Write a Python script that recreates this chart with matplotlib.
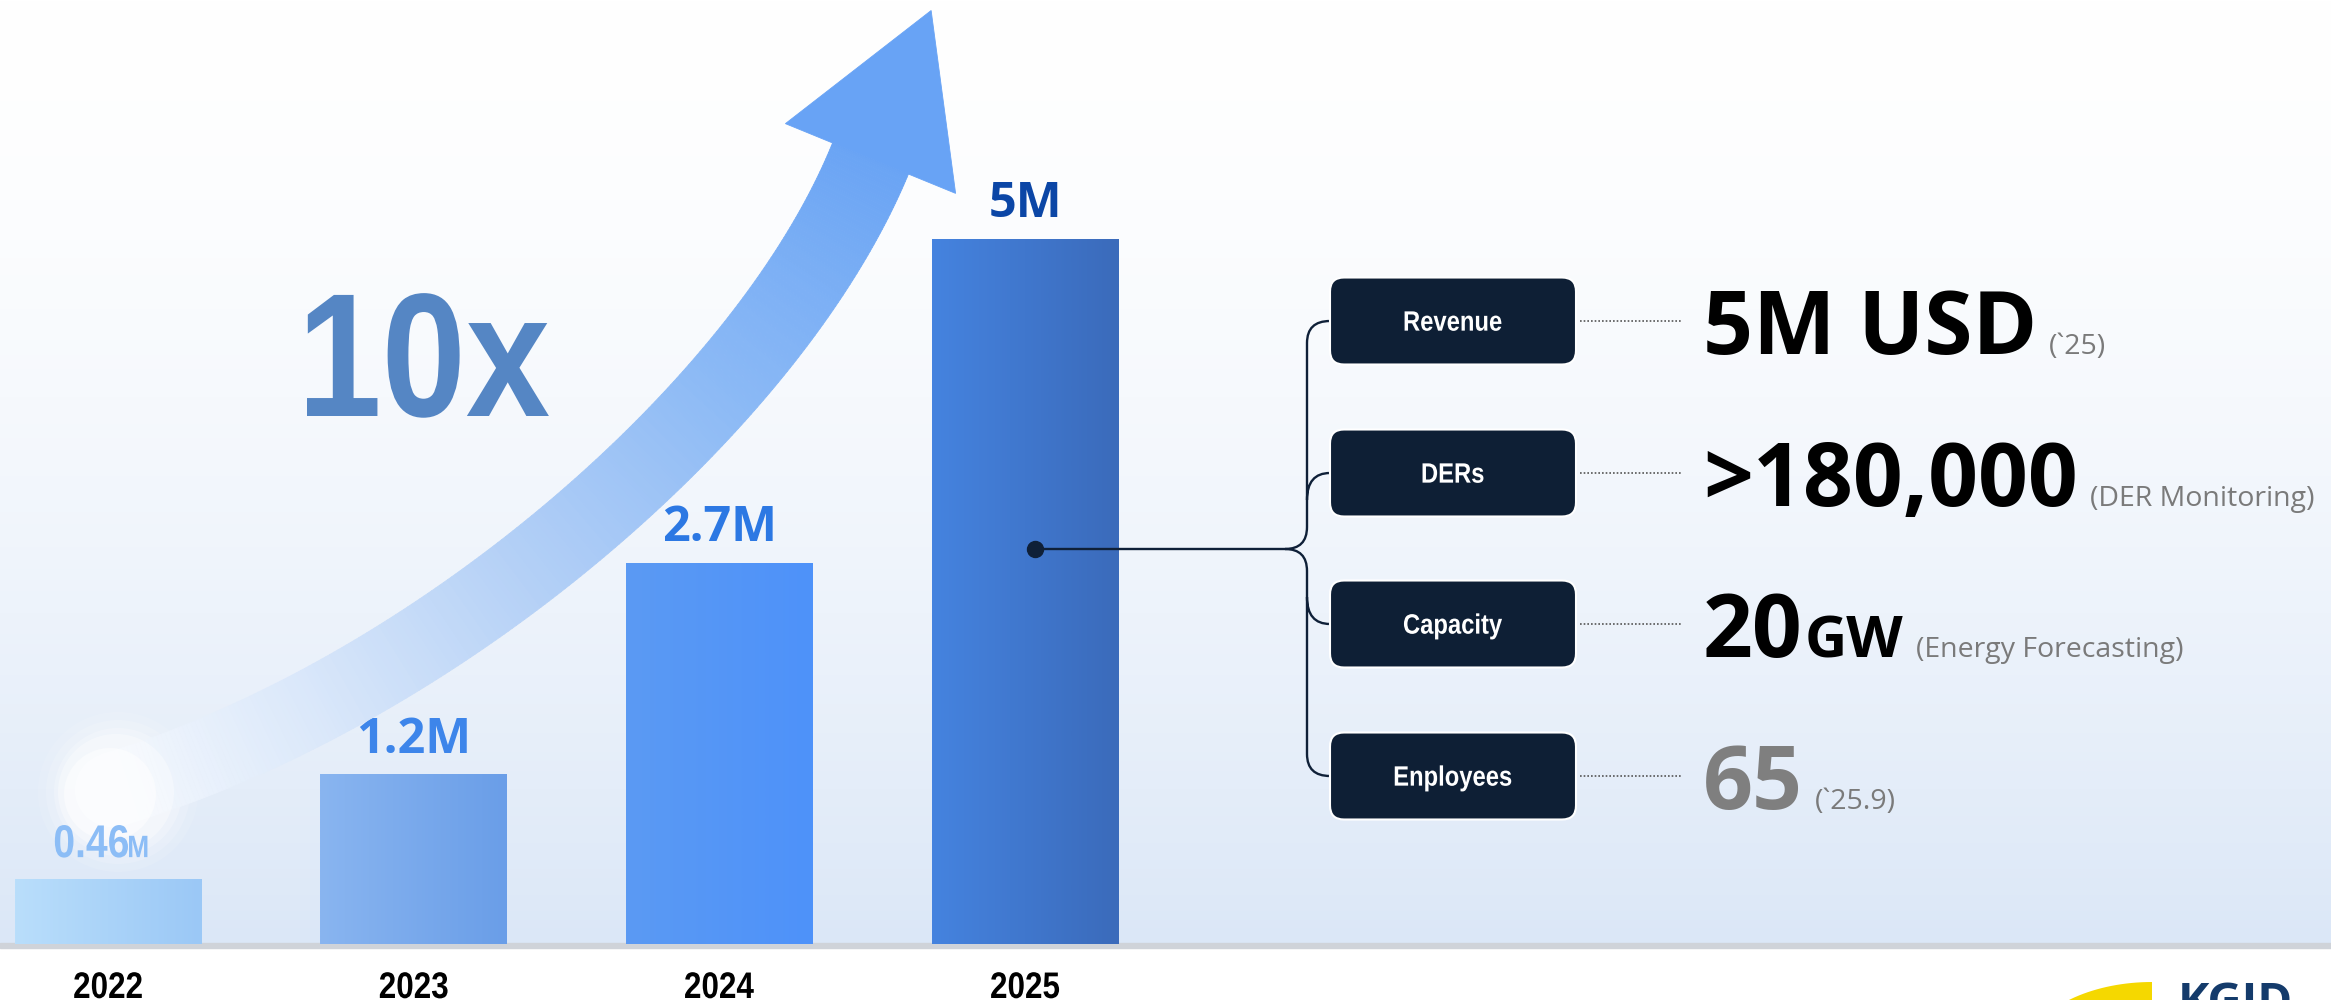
import numpy as np
import matplotlib
matplotlib.use('Agg')
import matplotlib.pyplot as plt
import matplotlib.transforms as mtransforms
from matplotlib import font_manager
from matplotlib.font_manager import FontProperties
from matplotlib.textpath import TextPath
from matplotlib.patches import Rectangle, FancyBboxPatch, PathPatch, Polygon, Circle
from matplotlib.path import Path
from matplotlib.collections import PolyCollection
from matplotlib.colors import LinearSegmentedColormap, to_rgb

# datos del grafico
years = ['2022', '2023', '2024', '2025']
revenue = [0.46, 1.2, 2.7, 5.0]
value_labels = ['0.46', '1.2M', '2.7M', '5M']
label_colors = ['#8cbdf6', '#3d85ea', '#2c78e3', '#0b46a6']
bar_grad = [('#b9defb', '#9bc8f6'), ('#89b5f0', '#6a9ee8'),
            ('#5b9af3', '#4e92fa'), ('#4583df', '#3b6bbb')]

kpi_names = ['Revenue', 'DERs', 'Capacity', 'Enployees']
kpi_values = ['5M USD', '>180,000', '20', '65']
kpi_units = ['', '', 'GW', '']
kpi_notes = ['(`25)', '(DER Monitoring)', '(Energy Forecasting)', '(`25.9)']
kpi_colors = ['#000000', '#000000', '#000000', '#7f7f7f']

names = {f.name for f in font_manager.fontManager.ttflist}
MAIN = 'Open Sans' if 'Open Sans' in names else 'DejaVu Sans'
ARIAL_B = FontProperties(family='Liberation Sans', weight='bold')

W, H = 2331, 1000
BASE = 944


def squeezed_text(ax, x, y, s, size_px, sx, color, ha='left', prop=ARIAL_B, zorder=7):
    # texto estrecho (tipo Arial Narrow) dibujado como path, y = linea base en pixeles
    tp = TextPath((0, 0), s, size=size_px, prop=prop)
    bb = tp.get_extents()
    w = bb.width * sx
    if ha == 'center':
        x0 = x - w / 2 - bb.x0 * sx
    elif ha == 'right':
        x0 = x - w - bb.x0 * sx
    else:
        x0 = x - bb.x0 * sx
    tr = mtransforms.Affine2D().scale(sx, -1).translate(x0, y) + ax.transData
    ax.add_patch(PathPatch(tp, fc=color, ec='none', transform=tr, zorder=zorder))


fig = plt.figure(figsize=(W / 100, H / 100), dpi=100)

# fondo degradado
ax_bg = fig.add_axes([0, 0, 1, 1], zorder=0)
rows = np.arange(H)
t = np.clip(rows / BASE, 0, 1) ** 1.6
top = np.array(to_rgb('#ffffff'))
bot = np.array(to_rgb('#dbe7f7'))
img = top + (bot - top) * t[:, None]
img[BASE:] = 1.0
ax_bg.imshow(img[:, None, :], extent=[0, W, H, 0], aspect='auto')
ax_bg.add_patch(Rectangle((0, BASE - 1), W, 5, color='#cfd3d9'))
ax_bg.set_xlim(0, W)
ax_bg.set_ylim(H, 0)
ax_bg.axis('off')

# barras
ax_bar = fig.add_axes([0, (H - BASE) / H, 1, BASE / H], zorder=1)
ax_bar.patch.set_alpha(0)
x = np.arange(len(years))
bars = ax_bar.bar(x, revenue, width=0.61, color='none', edgecolor='none')
g = np.linspace(0, 1, 64)[:, None]
for rect, (c0, c1) in zip(bars, bar_grad):
    cols = np.array(to_rgb(c0)) * (1 - g) + np.array(to_rgb(c1)) * g
    ax_bar.imshow(cols[None, :, :], extent=[rect.get_x(), rect.get_x() + rect.get_width(), 0, rect.get_height()],
                  aspect='auto', zorder=2, interpolation='bilinear')

for i in range(1, len(years)):
    ax_bar.annotate(value_labels[i], xy=(x[i], revenue[i]), xytext=(0, 16), textcoords='offset points',
                    ha='center', va='baseline', fontsize=35, fontweight='bold', family=MAIN,
                    color=label_colors[i], zorder=5)

ax_bar.set_xlim(-108 / 305.7, (W - 108) / 305.7)
ax_bar.set_ylim(0, 5.0 * BASE / 705)
ax_bar.set_xticks([])
ax_bar.set_yticks([])
for s in ax_bar.spines.values():
    s.set_visible(False)

# capa superior en pixeles
ax = fig.add_axes([0, 0, 1, 1], zorder=2)
ax.set_xlim(0, W)
ax.set_ylim(H, 0)
ax.axis('off')

# flecha curva
P0 = np.array([112.0, 790.0])
P3 = np.array([870.5, 158.5])
d_end = np.array([0.379, -0.925])
n_end = np.array([0.925, 0.379])
P1 = P0 + 335 * np.array([0.958, -0.287])
P2 = P3 - 270 * d_end
ts = np.linspace(0, 1, 220)
pts = ((1 - ts) ** 3)[:, None] * P0 + (3 * (1 - ts) ** 2 * ts)[:, None] * P1 \
    + (3 * (1 - ts) * ts ** 2)[:, None] * P2 + (ts ** 3)[:, None] * P3
der = (3 * (1 - ts) ** 2)[:, None] * (P1 - P0) + (6 * (1 - ts) * ts)[:, None] * (P2 - P1) \
    + (3 * ts ** 2)[:, None] * (P3 - P2)
der = der / np.linalg.norm(der, axis=1)[:, None]
nrm = np.column_stack([-der[:, 1], der[:, 0]])
wid = (74 + 8 * ts)[:, None] / 2
left = pts + wid * nrm
right = pts - wid * nrm
polys = [[left[i], left[i + 1], right[i + 1], right[i]] for i in range(len(ts) - 1)]
cmap = LinearSegmentedColormap.from_list('arr', [(0, '#f4f8fd'), (0.2, '#dbe8fa'), (0.45, '#b2cff6'),
                                                  (0.7, '#8bb9f5'), (1, '#6aa4f4')])
cc = cmap(ts[:-1])
for r, a in [(80, 0.10), (72, 0.15), (64, 0.22)]:
    ax.add_patch(Circle(P0 + np.array([6, 2]), r, color='white', alpha=a, lw=0, zorder=1))
ax.add_patch(Circle(P0, 37, color='#f4f8fd', lw=0, zorder=1))
ax.add_collection(PolyCollection(polys, facecolors=cc, edgecolors=cc, linewidths=0.6, zorder=1))
ax.add_patch(Polygon([P3 - 92 * n_end, P3 + 160 * d_end, P3 + 92 * n_end], closed=True,
                     fc='#68a3f5', ec='#68a3f5', lw=0.6, zorder=1))
ax.add_patch(Circle(P0 + np.array([4, 2]), 58, color='white', alpha=0.35, lw=0, zorder=1))
ax.add_patch(Circle(P0 + np.array([-2, 4]), 46, color='white', alpha=0.5, lw=0, zorder=1))

# etiquetas de anio y 0.46M, posicionadas con la escala de las barras
for i, yr in enumerate(years):
    px = ax_bar.transData.transform((x[i], 0))[0]
    squeezed_text(ax, px, 998, yr, 37, 0.85, '#000000', ha='center')
px, py = ax_bar.transData.transform((x[0], revenue[0]))
squeezed_text(ax, px + 20, H - py - 22, value_labels[0], 46, 0.85, label_colors[0], ha='right')
squeezed_text(ax, px + 21, H - py - 22, 'M', 31, 0.85, label_colors[0], ha='left')

squeezed_text(ax, 307, 416, '10x', 176, 0.86, '#5586c4', zorder=3)

# conector tipo llave
row_y = [321, 473, 624, 776]
lc = '#0f2038'
ax.plot([1035], [549], 'o', ms=11.5, color=lc, zorder=6)
V, B = 1307, 1330
verts = [(1035, 549), (1285, 549), (V, 549), (V, 527), (V, 343), (V, row_y[0]), (B, row_y[0]),
         (1285, 549), (V, 549), (V, 571), (V, 754), (V, row_y[3]), (B, row_y[3]),
         (V, 500), (V, row_y[1]), (B, row_y[1]),
         (V, 597), (V, row_y[2]), (B, row_y[2])]
codes = [Path.MOVETO, Path.LINETO, Path.CURVE3, Path.CURVE3, Path.LINETO, Path.CURVE3, Path.CURVE3,
         Path.MOVETO, Path.CURVE3, Path.CURVE3, Path.LINETO, Path.CURVE3, Path.CURVE3,
         Path.MOVETO, Path.CURVE3, Path.CURVE3,
         Path.MOVETO, Path.CURVE3, Path.CURVE3]
ax.add_patch(PathPatch(Path(verts, codes), fill=False, ec=lc, lw=1.7, zorder=5))

fig.canvas.draw()
rend = fig.canvas.get_renderer()

cap = TextPath((0, 0), 'H', size=28, prop=ARIAL_B).get_extents().height
for yc, name, val, unit, note, col in zip(row_y, kpi_names, kpi_values, kpi_units, kpi_notes, kpi_colors):
    ax.add_patch(FancyBboxPatch((B, yc - 43.5), 246, 87, boxstyle='round,pad=0,rounding_size=14',
                                fc='#0e1f35', ec='white', lw=1.5, zorder=6))
    squeezed_text(ax, B + 123, yc + cap / 2, name, 28, 0.85, 'white', ha='center')
    ax.plot([1580, 1682], [yc, yc], color='#555555', lw=1.2, ls=(0, (1, 1.2)))
    yb = yc + 33
    t1 = ax.text(1703, yb, val, fontsize=63, fontweight='bold', family=MAIN, color=col, va='baseline')
    xx = t1.get_window_extent(rend).x1
    if unit:
        t2 = ax.text(xx + 2, yb, unit, fontsize=42, fontweight='bold', family=MAIN, color=col, va='baseline')
        xx = t2.get_window_extent(rend).x1
    ax.text(xx + 12, yb, note, fontsize=20.5, family=MAIN, color='#7a7a7a', va='baseline')

# logo parcial
th = np.linspace(np.pi / 2, 3 * np.pi / 2, 80)
ell = np.column_stack([2152 + 130 * np.cos(th), 1060 - 78 * np.sin(th)])
ax.add_patch(Polygon(ell, closed=True, fc='#f5d800', ec='none'))
ax.text(2178, 1016, 'KGID', fontsize=34, fontweight='bold', family=MAIN, color='#143b6b', va='baseline')

fig.savefig('out.png', dpi=100)
